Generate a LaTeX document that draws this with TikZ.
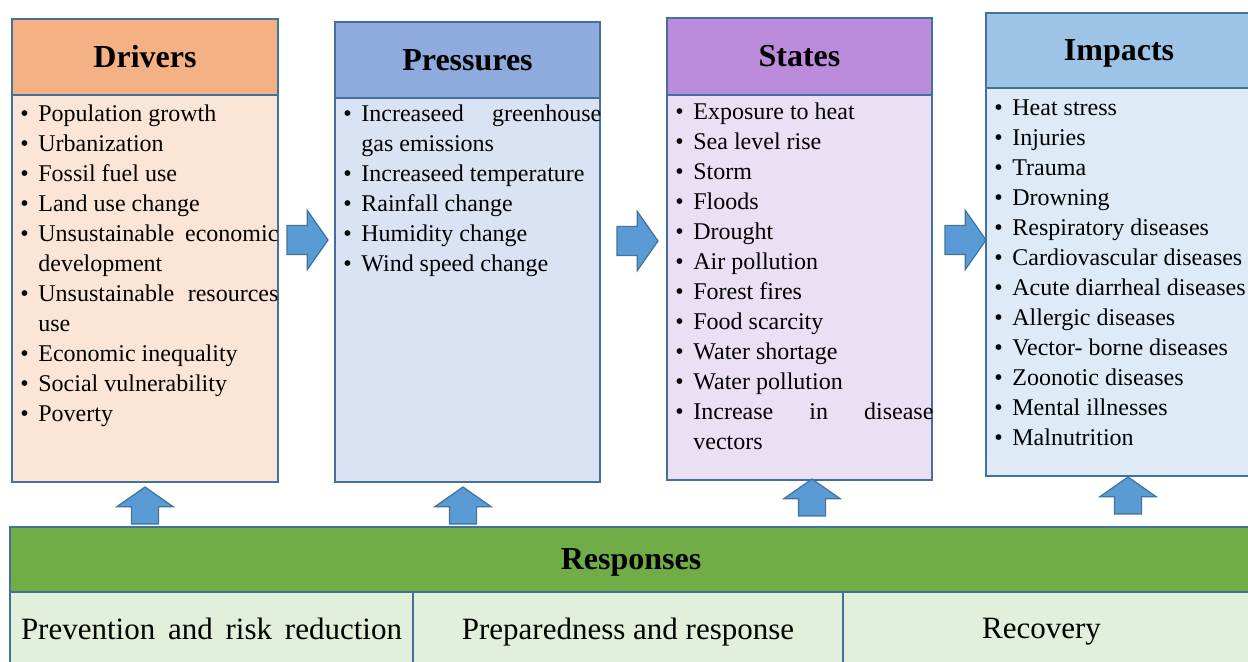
\documentclass[tikz,border=0pt]{standalone}
\usepackage{fontspec}
\setmainfont{Liberation Serif}
\usetikzlibrary{shapes.arrows}

\definecolor{edgeblue}{HTML}{41719C}
\definecolor{arrowblue}{HTML}{5B9BD5}
\definecolor{drvhead}{HTML}{F4B183}
\definecolor{drvbody}{HTML}{FBE5D6}
\definecolor{prshead}{HTML}{8FAADC}
\definecolor{prsbody}{HTML}{DAE3F3}
\definecolor{sthead}{HTML}{BC8CDC}
\definecolor{stbody}{HTML}{EADFF3}
\definecolor{imphead}{HTML}{9DC3E6}
\definecolor{impbody}{HTML}{DEEBF7}
\definecolor{resphead}{HTML}{70AD47}
\definecolor{respbody}{HTML}{E2EFDA}

\newcommand{\bitem}[1]{\par\noindent\hangindent=9pt\hangafter=1\makebox[9pt][l]{\strut\textbullet}#1}

\tikzset{
	panel/.style={draw=edgeblue, line width=1pt, anchor=north west, outer sep=0pt, inner sep=0pt},
	headtext/.style={panel, font=\fontsize{16}{19}\selectfont\bfseries},
	listtext/.style={anchor=north west, text width=129pt, inner xsep=4pt, inner ysep=0pt, align=justify, font=\fontsize{12}{15}\selectfont},
	celltext/.style={panel, fill=respbody, minimum height=36.5pt, text depth=0pt, font=\fontsize{15.5}{18}\selectfont},
	blockarrow/.style={single arrow, draw=edgeblue, fill=arrowblue, line width=0.6pt, single arrow head indent=0pt, single arrow tip angle=110, anchor=tail, outer sep=0pt},
	rightarrow/.style={blockarrow, inner xsep=2pt, inner ysep=7pt, minimum height=20.5pt, minimum width=29pt, single arrow head extend=7.5pt},
	uparrow/.style={blockarrow, inner xsep=6.5pt, inner ysep=2pt, shape border rotate=90, minimum height=18.5pt, minimum width=27.5pt, single arrow head extend=7.25pt},
}

\begin{document}
\begin{tikzpicture}[x=0.5pt,y=-0.5pt]
	\useasboundingbox (0,0) rectangle (1248,662);
	
	%Shape: Rectangle [Drivers]
	\node [headtext, fill=drvhead, minimum width=133pt, minimum height=38pt] (drivers-head) at (12,19) {Drivers};
	\node [panel, fill=drvbody, minimum width=133pt, minimum height=193.5pt] (drivers-body) at (12,95) {};
	%Shape: Rectangle [Pressures]
	\node [headtext, fill=prshead, minimum width=132.5pt, minimum height=38pt] (pressures-head) at (335,22) {Pressures};
	\node [panel, fill=prsbody, minimum width=132.5pt, minimum height=192pt] (pressures-body) at (335,98) {};
	%Shape: Rectangle [States]
	\node [headtext, fill=sthead, minimum width=132.5pt, minimum height=38.5pt] (states-head) at (667,18) {States};
	\node [panel, fill=stbody, minimum width=132.5pt, minimum height=192.5pt] (states-body) at (667,95) {};
	%Shape: Rectangle [Impacts]
	\node [headtext, fill=imphead, minimum width=133pt, minimum height=37.5pt, text depth=0pt] (impacts-head) at (986,13) {Impacts};
	\node [panel, fill=impbody, minimum width=133pt, minimum height=194pt] (impacts-body) at (986,88) {};
	
	% Text Node
	\node [listtext] (drivers-list) at (12,91) {%
		\bitem{Population growth}
		\bitem{Urbanization}
		\bitem{Fossil fuel use}
		\bitem{Land use change}
		\bitem{Unsustainable\hfill economic\newline development}
		\bitem{Unsustainable\hfill resources\newline use}
		\bitem{Economic inequality}
		\bitem{Social vulnerability}
		\bitem{Poverty}\par};
	% Text Node
	\node [listtext] (pressures-list) at (335,91) {%
		\bitem{Increaseed\hfill greenhouse\newline gas emissions}
		\bitem{Increaseed temperature}
		\bitem{Rainfall change}
		\bitem{Humidity change}
		\bitem{Wind speed change}\par};
	% Text Node
	\node [listtext] (states-list) at (667,89) {%
		\bitem{Exposure to heat}
		\bitem{Sea level rise}
		\bitem{Storm}
		\bitem{Floods}
		\bitem{Drought}
		\bitem{Air pollution}
		\bitem{Forest fires}
		\bitem{Food scarcity}
		\bitem{Water shortage}
		\bitem{Water pollution}
		\bitem{Increase\hfill in\hfill disease\newline vectors}\par};
	% Text Node
	\node [listtext] (impacts-list) at (986,85) {%
		\bitem{Heat stress}
		\bitem{Injuries}
		\bitem{Trauma}
		\bitem{Drowning}
		\bitem{Respiratory diseases}
		\bitem{Cardiovascular diseases}
		\bitem{Acute diarrheal diseases}
		\bitem{Allergic diseases}
		\bitem{Vector- borne diseases}
		\bitem{Zoonotic diseases}
		\bitem{Mental illnesses}
		\bitem{Malnutrition}\par};
	
	%Shape: Right Arrow
	\node [rightarrow] (drv-to-prs) at (287,240) {};
	\node [rightarrow] (prs-to-st) at (617,241) {};
	\node [rightarrow] (st-to-imp) at (945,240) {};
	
	%Shape: Rectangle [Responses]
	\node [headtext, fill=resphead, minimum width=621pt, minimum height=32.5pt, text depth=0pt] (responses-head) at (10,527) {Responses};
	\node [celltext, minimum width=201.5pt] (prevention) at (10,592) {\makebox[190.5pt][s]{Prevention and risk reduction}};
	\node [celltext, minimum width=215pt] (preparedness) at (413,592) {Preparedness and response};
	\node [celltext, minimum width=204.5pt] (recovery) at (843,592) {\hspace*{-6pt}Recovery};
	
	%Shape: Up Arrow
	\node [uparrow] (resp-to-drv) at (145,524) {};
	\node [uparrow] (resp-to-prs) at (463,524) {};
	\node [uparrow] (resp-to-st) at (812,516) {};
	\node [uparrow] (resp-to-imp) at (1128,514) {};
	
\end{tikzpicture}
\end{document}
